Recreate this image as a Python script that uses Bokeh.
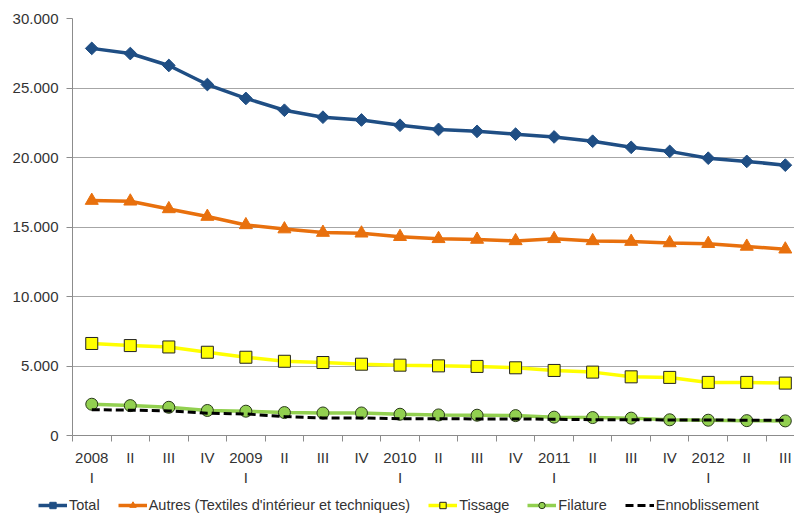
import numpy as np
from bokeh.plotting import figure
from bokeh.layouts import column
from bokeh.models import FixedTicker, Range1d, Legend, LegendItem
from bokeh.embed import file_html
from bokeh.resources import INLINE

quarters = ["2008\nI", "II", "III", "IV", "2009\nI", "II", "III", "IV",
            "2010\nI", "II", "III", "IV", "2011\nI", "II", "III", "IV",
            "2012\nI", "II", "III"]
total = [27850, 27480, 26620, 25250, 24250, 23400, 22900, 22700, 22320, 22020,
         21880, 21680, 21480, 21170, 20730, 20440, 19950, 19720, 19450]
autres = [16900, 16850, 16300, 15750, 15150, 14850, 14600, 14550, 14300, 14150,
          14100, 14000, 14150, 14000, 13950, 13850, 13800, 13600, 13400]
tissage = [6620, 6470, 6370, 5990, 5630, 5340, 5250, 5130, 5060, 5010,
           4970, 4870, 4680, 4560, 4220, 4180, 3820, 3820, 3770]
filature = [2250, 2150, 2030, 1800, 1750, 1650, 1620, 1620, 1530, 1480,
            1460, 1430, 1320, 1290, 1250, 1130, 1100, 1070, 1050]
ennob = [1860, 1820, 1770, 1600, 1550, 1360, 1260, 1260, 1210, 1210,
         1190, 1190, 1170, 1140, 1140, 1120, 1120, 1100, 1100]
series_names = ["Total", "Autres (Textiles d'intérieur et techniques)",
                "Tissage", "Filature", "Ennoblissement"]
y_ticks = [0, 5000, 10000, 15000, 20000, 25000, 30000]

x = list(range(len(quarters)))
FONT = "Liberation Sans"
TXT = "#333333"

p = figure(frame_width=722, frame_height=417, min_border_left=72, min_border_right=0,
           min_border_top=18, min_border_bottom=62,
           x_range=Range1d(-0.5, -0.5 + 722 / 38.53), y_range=Range1d(0, 30000),
           output_backend="svg", toolbar_location=None)
p.frame_align = False
p.outline_line_color = None
p.xgrid.grid_line_color = None
p.ygrid.grid_line_color = "#a6a6a6"
p.ygrid.grid_line_width = 1
p.ygrid.ticker = FixedTicker(ticks=y_ticks)

p.yaxis.ticker = FixedTicker(ticks=y_ticks)
p.yaxis.major_label_overrides = {v: f"{v:,}".replace(",", ".") for v in y_ticks}
p.yaxis.axis_line_color = "#8c8c8c"
p.yaxis.major_tick_line_color = "#8c8c8c"
p.yaxis.major_tick_out = 6
p.yaxis.major_tick_in = 0
p.yaxis.minor_tick_line_color = None
p.yaxis.major_label_standoff = 8

p.xaxis.ticker = FixedTicker(ticks=x, minor_ticks=[i - 0.5 for i in x] + [len(x) - 0.5])
p.xaxis.major_label_overrides = {i: q for i, q in zip(x, quarters)}
p.xaxis.axis_line_color = "#8c8c8c"
p.xaxis.major_tick_line_color = None
p.xaxis.major_tick_out = 0
p.xaxis.major_tick_in = 0
p.xaxis.minor_tick_line_color = "#8c8c8c"
p.xaxis.minor_tick_out = 6
p.xaxis.minor_tick_in = 0
p.xaxis.major_label_standoff = 7

for ax in (p.xaxis, p.yaxis):
    ax.major_label_text_font = FONT
    ax.major_label_text_font_size = "15px"
    ax.major_label_text_color = TXT

c_total = "#1f4e84"
c_autres = "#e8700d"
c_tiss = "#ffff00"
c_fil = "#92d050"

p.line(x, total, line_color=c_total, line_width=3.5)
p.scatter(x, total, marker="square", angle=np.pi / 4, size=9, fill_color=c_total, line_color=c_total)
p.line(x, autres, line_color=c_autres, line_width=3.5)
p.scatter(x, autres, marker="triangle", size=13, fill_color=c_autres, line_color=c_autres)
p.line(x, tissage, line_color=c_tiss, line_width=3.5)
p.scatter(x, tissage, marker="square", size=12, fill_color=c_tiss, line_color="#222222", line_width=1)
p.line(x, filature, line_color=c_fil, line_width=3.5)
p.scatter(x, filature, marker="circle", size=12, fill_color=c_fil, line_color="#2a3a1a", line_width=1)
p.line(x, ennob, line_color="black", line_width=3, line_dash="8 4")

# Legend strip: a separate figure whose own renderers (same series, outside its view) feed the legend
lg = figure(width=794, height=25, min_border=0, x_range=Range1d(0, 1), y_range=Range1d(0, 1),
            output_backend="svg", toolbar_location=None,
            x_axis_location=None, y_axis_location=None)
lg.frame_align = False
lg.outline_line_color = None
lg.grid.grid_line_color = None
k1 = lg.line(x, total, line_color=c_total, line_width=3.5)
s1 = lg.scatter(x, total, marker="square", angle=np.pi / 4, size=7, fill_color=c_total, line_color=c_total)
k2 = lg.line(x, autres, line_color=c_autres, line_width=3.5)
s2 = lg.scatter(x, autres, marker="triangle", size=10, fill_color=c_autres, line_color=c_autres)
k3 = lg.line(x, tissage, line_color=c_tiss, line_width=3.5)
s3 = lg.scatter(x, tissage, marker="square", size=10, fill_color=c_tiss, line_color="#222222", line_width=1)
k4 = lg.line(x, filature, line_color=c_fil, line_width=3.5)
s4 = lg.scatter(x, filature, marker="circle", size=10, fill_color=c_fil, line_color="#2a3a1a", line_width=1)
k5 = lg.line(x, ennob, line_color="black", line_width=3, line_dash="8 4")

legend = Legend(items=[
    LegendItem(label=series_names[0], renderers=[k1, s1]),
    LegendItem(label=series_names[1], renderers=[k2, s2]),
    LegendItem(label=series_names[2], renderers=[k3, s3]),
    LegendItem(label=series_names[3], renderers=[k4, s4]),
    LegendItem(label=series_names[4], renderers=[k5]),
], orientation="horizontal", location=(38, 9))
legend.label_text_font = FONT
legend.label_text_font_size = "14.5px"
legend.label_text_color = TXT
legend.glyph_width = 29
legend.glyph_height = 16
legend.label_height = 16
legend.label_standoff = 2
legend.spacing = 18
legend.padding = 0
legend.margin = 0
legend.border_line_color = None
legend.background_fill_alpha = 0
lg.add_layout(legend, "center")

layout = column(p, lg, spacing=0)
open("out.html", "w").write(file_html(layout, INLINE))
